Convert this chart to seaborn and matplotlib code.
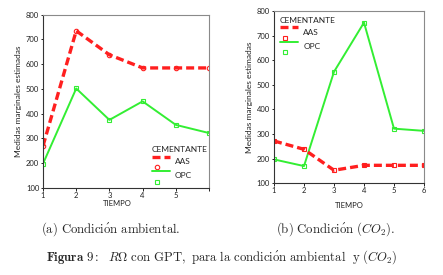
import numpy as np
import pandas as pd
import seaborn as sns
import matplotlib
matplotlib.use("Agg")
import matplotlib.pyplot as plt
from matplotlib.lines import Line2D
from matplotlib.legend_handler import HandlerBase

# data
tiempo = [1, 2, 3, 4, 5, 6]
amb_aas = [270, 735, 638, 585, 585, 585]
amb_opc = [198, 502, 375, 450, 355, 322]
co2_aas = [272, 238, 153, 173, 173, 173]
co2_opc = [197, 170, 553, 753, 322, 313]

left_xticklabels = ['1', '2', '3', '4', '5', '']
right_xticklabels = ['1', '2', '3', '4', '5', '6']
yticks = [100, 200, 300, 400, 500, 600, 700, 800]

red = '#ff1f1f'
green = '#33ee33'
tick_font = ['Lato', 'DejaVu Sans']

sns.set_style("ticks")
plt.rcParams['font.family'] = tick_font
plt.rcParams['mathtext.fontset'] = 'cm'


class StackHandler(HandlerBase):
    # SPSS style legend entry: line on top, marker below
    def create_artists(self, legend, orig_handle, xdescent, ydescent,
                       width, height, fontsize, trans):
        ln, mk = orig_handle
        x0 = -xdescent
        y0 = -ydescent
        a = Line2D([x0, x0 + width], [y0 + height * 0.85] * 2,
                   color=ln.get_color(), lw=ln.get_linewidth(),
                   linestyle=ln.get_linestyle(), transform=trans)
        if ln._unscaled_dash_pattern[1]:
            a.set_dashes(ln._unscaled_dash_pattern[1])
        b = Line2D([x0 + width * 0.3], [y0 + height * 0.05], linestyle='none',
                   marker=mk.get_marker(), markersize=mk.get_markersize(),
                   markerfacecolor='none', markeredgecolor=mk.get_markeredgecolor(),
                   markeredgewidth=0.8, transform=trans)
        return [a, b]


def panel(ax, aas, opc, aas_marker, xticklabels, leg_loc, leg_anchor):
    df = pd.DataFrame({'TIEMPO': tiempo, 'AAS': aas, 'OPC': opc})
    sns.lineplot(data=df, x='TIEMPO', y='OPC', ax=ax, color=green, lw=1.4,
                 marker='s', markersize=3.2, markerfacecolor='none',
                 markeredgecolor=green, markeredgewidth=0.8)
    sns.lineplot(data=df, x='TIEMPO', y='AAS', ax=ax, color=red, lw=2.4,
                 linestyle=(0, (2.4, 1.2)), marker=aas_marker, markersize=3.2,
                 markerfacecolor='none', markeredgecolor=red, markeredgewidth=0.8)
    ax.set_xlim(1, 6)
    ax.set_ylim(100, 800)
    ax.set_xticks(tiempo)
    ax.set_xticklabels(xticklabels)
    ax.set_yticks(yticks)
    ax.tick_params(labelsize=5.5, length=1.8, width=0.7, pad=1, colors='#222222')
    ax.set_xlabel('TIEMPO', fontsize=5.5, labelpad=2, color='#222222')
    ax.set_ylabel('Medidas marginales estimadas', fontsize=6, labelpad=3, color='#222222')
    for s in ['left', 'bottom']:
        ax.spines[s].set_color('#333333')
        ax.spines[s].set_linewidth(0.8)
    for s in ['top', 'right']:
        ax.spines[s].set_visible(True)
        ax.spines[s].set_color('#8a8a8a')
        ax.spines[s].set_linewidth(0.8)

    ln_aas = Line2D([], [], color=red, lw=2.4, linestyle=(0, (2.4, 1.2)))
    mk_aas = Line2D([], [], marker=aas_marker, markersize=3.2, markeredgecolor=red)
    ln_opc = Line2D([], [], color=green, lw=1.4)
    mk_opc = Line2D([], [], marker='s', markersize=3.2, markeredgecolor=green)
    ax.legend([(ln_aas, mk_aas), (ln_opc, mk_opc)], ['AAS', 'OPC'],
              handler_map={tuple: StackHandler()}, title='CEMENTANTE',
              loc=leg_loc, bbox_to_anchor=leg_anchor, frameon=False,
              fontsize=6, title_fontsize=6, handlelength=2.2,
              handleheight=2.0, handletextpad=0.6, labelspacing=0.2,
              borderpad=0.2, alignment='left')
    return ax


fig = plt.figure(figsize=(4.43, 2.75), dpi=100)
ax1 = fig.add_axes([0.0971, 0.3164, 0.3747, 0.6301])
ax2 = fig.add_axes([0.6185, 0.3335, 0.3386, 0.6265])

panel(ax1, amb_aas, amb_opc, 'o', left_xticklabels, 'lower left', (0.62, 0.0))
panel(ax2, co2_aas, co2_opc, 's', right_xticklabels, 'upper left', (0.0, 1.0))
ax1.xaxis.set_label_coords(0.45, -0.07)
ax2.xaxis.set_label_coords(0.5, -0.11)

fig.text(0.25, 0.167, r'$\mathrm{(a)\ Condici\acute{o}n\ ambiental.}$', ha='center',
         va='center', fontsize=9.2)
fig.text(0.757, 0.167, r'$\mathrm{(b)\ Condici\acute{o}n}\ (CO_2).$', ha='center',
         va='center', fontsize=9.2)
fig.text(0.5, 0.065,
         r'$\mathbf{Figura\ 9{:}}\ \ R\Omega\ \mathrm{con\ GPT,\ para\ la\ condici\acute{o}n\ ambiental\ \ y}\ (CO_2)$',
         ha='center', va='center', fontsize=9.2)

fig.savefig('out.png', dpi=100)
